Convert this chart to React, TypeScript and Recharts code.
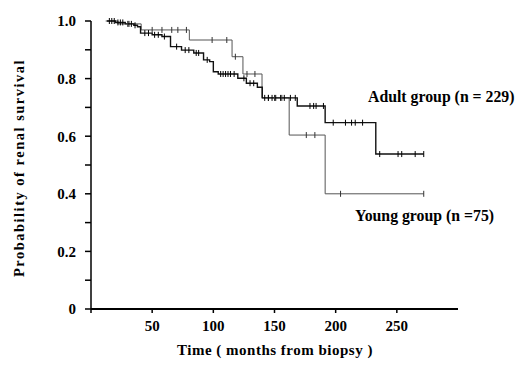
import React from 'react';
import { LineChart, Line, XAxis, YAxis } from 'recharts';

// Kaplan-Meier steps (months, survival probability)
const adultTimes = [13, 20, 28, 35, 38, 40.5, 50, 58, 65, 74, 84, 92, 97, 100, 104, 120, 127, 136, 140, 168.6, 191.4, 232.8];
const adultSurv = [1.0, 0.995, 0.99, 0.985, 0.98, 0.958, 0.952, 0.946, 0.911, 0.899, 0.889, 0.865, 0.859, 0.824, 0.816, 0.801, 0.784, 0.77, 0.733, 0.705, 0.647, 0.538];
const adultCensored = [15, 17, 19, 22, 24, 26, 31, 33, 36, 44, 47, 52, 55, 60, 70, 77, 80, 86, 88, 95, 106, 108, 110, 112, 114, 117, 125, 130, 133, 142, 145, 148, 151, 155, 158, 163, 167, 179, 182, 184, 190, 198, 208, 213, 216, 222, 236, 251, 254, 265, 272];

const youngTimes = [12, 22, 41, 80.4, 115.3, 124.2, 139.8, 162, 191.4];
const youngSurv = [1.0, 0.99, 0.969, 0.934, 0.876, 0.816, 0.733, 0.604, 0.4];
const youngCensored = [30, 50, 58, 66, 71, 78, 99, 111, 118, 127.5, 134, 145, 150, 156, 176, 183, 204, 272];

const xTicks = [0, 50, 100, 150, 200, 250];
const yTicks = [0, 0.1, 0.2, 0.3, 0.4, 0.5, 0.6, 0.7, 0.8, 0.9, 1.0];

const FONT = '"Liberation Serif", "Times New Roman", serif';

type Pt = { t: number; s: number; censored: boolean };

function buildSeries(times: number[], surv: number[], censored: number[]): Pt[] {
  const survAt = (t: number) => {
    let s = surv[0];
    times.forEach((tt, i) => {
      if (tt <= t) s = surv[i];
    });
    return s;
  };
  const pts: Pt[] = times.map((t, i) => ({ t, s: surv[i], censored: false }));
  censored.forEach((t) => pts.push({ t, s: survAt(t), censored: true }));
  return pts.sort((a, b) => a.t - b.t);
}

const adultData = buildSeries(adultTimes, adultSurv, adultCensored);
const youngData = buildSeries(youngTimes, youngSurv, youngCensored);

const censorDot = (color: string) => (props: any) => {
  const { cx, cy, payload, index } = props;
  if (!payload || !payload.censored) return <g key={`d-${index}`} />;
  return <line key={`d-${index}`} x1={cx} x2={cx} y1={cy - 3} y2={cy + 3} stroke={color} strokeWidth={1} />;
};

const tickStyle = { fontSize: 15, fontWeight: 'bold' as const, fontFamily: FONT, fill: '#000' };

const yFormat = (v: number) => {
  const k = Math.round(v * 10);
  if (k % 2 !== 0) return '';
  return k === 0 ? '0' : v.toFixed(1);
};

const textStyle: React.CSSProperties = {
  position: 'absolute',
  fontFamily: FONT,
  fontWeight: 'bold',
  color: '#000',
  whiteSpace: 'nowrap',
  lineHeight: 1,
};

export default function App() {
  return (
    <div style={{ position: 'absolute', left: 0, top: 0, width: 518, height: 366, background: '#fff' }}>
      <LineChart width={518} height={366} margin={{ top: 21, right: 60, bottom: 27, left: 31 }}>
        <XAxis
          type="number"
          dataKey="t"
          domain={[0, 300]}
          ticks={xTicks}
          tickFormatter={(v: number) => (v === 0 ? '' : String(v))}
          tick={tickStyle}
          tickSize={4}
          tickMargin={7}
          axisLine={{ stroke: '#000', strokeWidth: 2 }}
          tickLine={{ stroke: '#000', strokeWidth: 1.5 }}
          allowDataOverflow
        />
        <YAxis
          type="number"
          domain={[0, 1]}
          ticks={yTicks}
          tickFormatter={yFormat}
          tick={tickStyle}
          tickSize={6}
          tickMargin={9}
          axisLine={{ stroke: '#000', strokeWidth: 1.5 }}
          tickLine={{ stroke: '#000', strokeWidth: 1.5 }}
          interval={0}
        />
        <Line
          data={youngData}
          dataKey="s"
          type="stepAfter"
          stroke="#555"
          strokeWidth={1}
          dot={censorDot('#333')}
          activeDot={false}
          isAnimationActive={false}
        />
        <Line
          data={adultData}
          dataKey="s"
          type="stepAfter"
          stroke="#111"
          strokeWidth={1.4}
          dot={censorDot('#000')}
          activeDot={false}
          isAnimationActive={false}
        />
      </LineChart>
      <div style={{ ...textStyle, left: 368, top: 89, fontSize: 15.8 }}>Adult group (n = 229)</div>
      <div style={{ ...textStyle, left: 355, top: 208, fontSize: 15.8 }}>Young group (n =75)</div>
      <div style={{ ...textStyle, left: 175, width: 200, top: 343, fontSize: 15, letterSpacing: 0.5, textAlign: 'center' }}>
        Time ( months from biopsy )
      </div>
      <div
        style={{
          ...textStyle,
          left: 19,
          top: 168,
          fontSize: 14.5,
          letterSpacing: 1.5,
          transform: 'translate(-50%, -50%) rotate(-90deg)',
        }}
      >
        Probability of renal survival
      </div>
    </div>
  );
}
